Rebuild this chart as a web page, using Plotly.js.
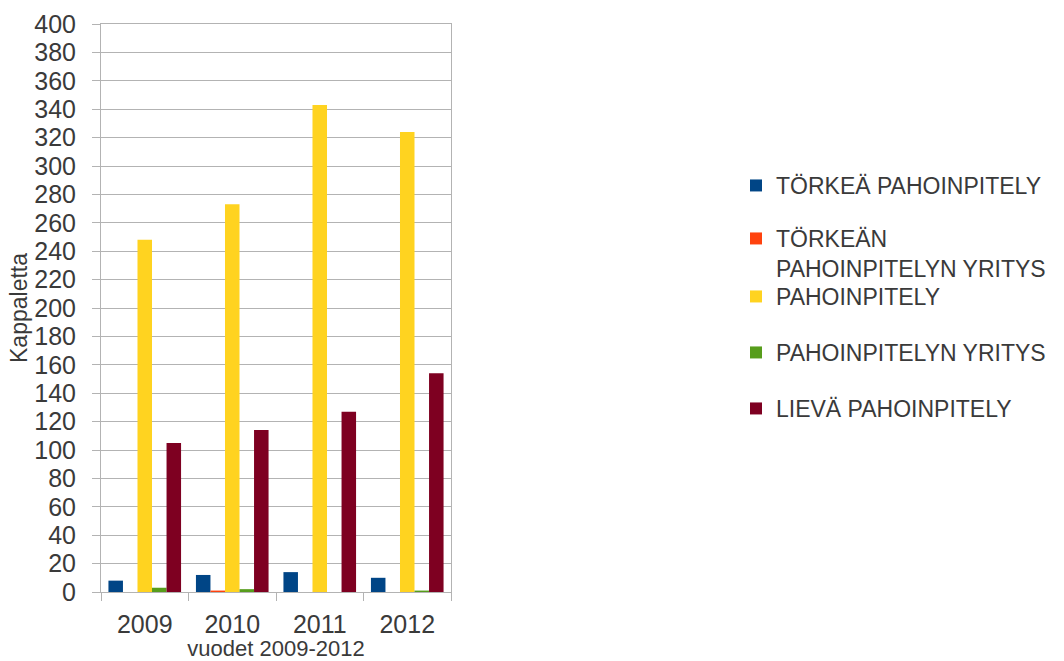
<!DOCTYPE html>
<html>
<head>
<meta charset="utf-8">
<script src="https://cdn.plot.ly/plotly-3.0.1.min.js"></script>
<style>
  html, body { margin: 0; padding: 0; background: #fff; }
  #chart { width: 1064px; height: 661px; }
</style>
</head>
<body>
<div id="chart"></div>
<script>
// Years on the x axis
var years = [ "2009", "2010", "2011", "2012" ];

// One array per crime type (Kappaletta = count)
var torkeaPahoinpitely         = [ 8, 12, 14, 10 ];
var torkeanPahoinpitelynYritys = [ 0, 1, 0, 0 ];
var pahoinpitely               = [ 248, 273, 343, 324 ];
var pahoinpitelynYritys        = [ 3, 2, 0, 1 ];
var lievaPahoinpitely          = [ 105, 114, 127, 154 ];

var seriesNames = [
	"TÖRKEÄ PAHOINPITELY",
	"TÖRKEÄN<br>PAHOINPITELYN YRITYS",
	"PAHOINPITELY",
	"PAHOINPITELYN YRITYS",
	"LIEVÄ PAHOINPITELY"
];
var seriesValues = [ torkeaPahoinpitely, torkeanPahoinpitelynYritys, pahoinpitely, pahoinpitelynYritys, lievaPahoinpitely ];
var seriesColors = [ "#004586", "#ff420e", "#ffd320", "#579d1c", "#7e0021" ];

var yTicks = [];
for( let v = 0; v <= 400; v += 20 )
	yTicks.push( v );

// Each legend entry gets its own legend box so the rows sit in even slots.
var legendIds = [ "legend", "legend2", "legend3", "legend4", "legend5" ];
var legendRowY = [ 185, 238, 296, 352, 408 ];	// pixel centre of first text line

var data = [];
for( let i = 0; i < seriesNames.length; i++ )
{
	data.push( {
		type: "bar",
		name: seriesNames[ i ],
		x: years,
		y: seriesValues[ i ],
		marker: { color: seriesColors[ i ] },
		legend: legendIds[ i ]
	} );
}

var txt = "#3a3a3a";

var layout = {
	width: 1064,
	height: 661,
	paper_bgcolor: "#ffffff",
	plot_bgcolor: "#ffffff",
	font: { family: "Liberation Sans, Arial, sans-serif", color: txt },
	margin: { l: 101, r: 613, t: 24, b: 69, autoexpand: false },
	barmode: "group",
	bargap: 0.17,
	bargroupgap: 0,
	showlegend: true,
	xaxis: {
		type: "category",
		tickson: "boundaries",
		ticks: "outside",
		ticklen: 8,
		tickcolor: "#b3b3b3",
		ticklabelstandoff: 10,
		showline: true,
		linecolor: "#b3b3b3",
		mirror: true,
		showgrid: false,
		tickfont: { size: 25, color: txt },
		title: { text: "vuodet 2009-2012", font: { size: 22, color: txt }, standoff: 0 }
	},
	yaxis: {
		range: [ 0, 400 ],
		tickvals: yTicks,
		ticks: "outside",
		ticklen: 8,
		tickcolor: "#b3b3b3",
		ticklabelstandoff: 11,
		showline: true,
		linecolor: "#b3b3b3",
		mirror: true,
		showgrid: true,
		gridcolor: "#b3b3b3",
		zeroline: false,
		tickfont: { size: 25, color: txt },
		title: { text: "Kappaletta", font: { size: 23, color: txt }, standoff: 0 }
	}
};

for( let i = 0; i < legendIds.length; i++ )
{
	layout[ legendIds[ i ] ] = {
		xref: "container",
		yref: "container",
		x: 736 / 1064,
		y: 1 - ( legendRowY[ i ] - 21 ) / 661,
		xanchor: "left",
		yanchor: "top",
		valign: "top",
		font: { size: 23, color: txt },
		itemwidth: 30,
		bgcolor: "rgba(0,0,0,0)"
	};
}

Plotly.newPlot( "chart", data, layout, { staticPlot: true } );
</script>
</body>
</html>
